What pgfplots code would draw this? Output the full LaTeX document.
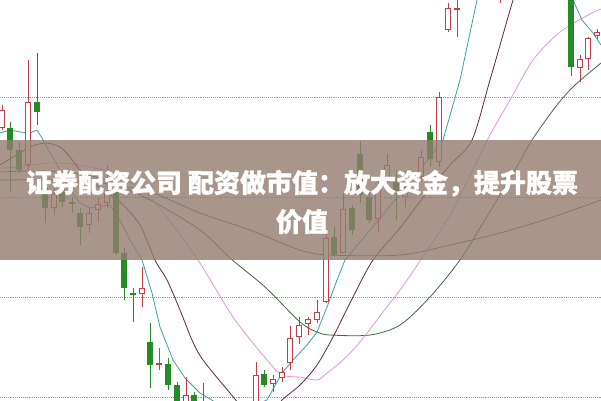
\documentclass[border=0pt]{standalone}
\usepackage{pgfplots}
\pgfplotsset{compat=1.18}
\usepackage{pgfplotstable}
\usepackage{fontspec}
\newfontfamily\cjk{Noto Sans CJK SC}[BoldFeatures={FakeBold=1.2}]
\definecolor{cgreen}{RGB}{36,140,36}
\definecolor{cred}{RGB}{196,62,72}
\definecolor{ma5}{RGB}{60,158,170}
\definecolor{ma10}{RGB}{92,36,78}
\definecolor{ma20}{RGB}{222,150,228}
\definecolor{ma30}{RGB}{62,104,62}
\definecolor{ma60}{RGB}{80,90,80}
\definecolor{banner}{RGB}{146,124,112}

% candles in picture units: x, body top, body bottom, high, low (y grows downward)
\pgfplotstableread{
x top bot hi lo
10 128 150 122 192
19 150 170 142 173
37 102 112 53 125
45 188 208 185 223
62 187 202 182 207
72 202 203.5 197 213
80 213 227 208 245
116 190 253 187 255
124 253 288 248 300
133 293 295 288 322
150 342 365 323 388
168 364 385 358 390
177 385 410 382 415
194 395 410 392 415
203 410 420 383 425
264 374 385 370 387
334 237 255 227 257
352 208 230 205 235
360 154 195 141 203
369 197 220 192 223
396 182 192 170 220
430 132 159 125 167
571 -20 67 -30 76
}\greencandles

\pgfplotstableread{
x top bot hi lo inner
2 110 128 105 130 16
28 102 165 60 170 61
54 193 208 188 215 13
89 213 225 207 233 10
98 204 210 198 222 4
107 192 203 165 208 9
142 288 294 267 307 4
159 363 365 348 370 0
186 395 410 377 415 13
256 375 410 362 415 33
273 379 384 375 392 3
282 372 378 367 382 4
290 338 363 326 370 23
299 325 337 317 344 10
308 319 324 317 335 3
317 312 320 300 323 6
326 238 302 233 303 62
343 209 253 193 253 42
378 188 219 180 232 29
387 165 178 154 188 11
405 187 197 173 207 8
421 157 177 150 182 18
439 97 162 92 167 63
448 8 30 3 32 20
457 8 10 -5 37 0
500 -30 -10 -40 3 18
580 59 68 55 82 7
588 38 59 37 70 19
597 32 36 29 39 2
}\redcandles

\begin{document}
\begin{tikzpicture}
\begin{axis}[
  width=601pt, height=400pt, scale only axis,
  xmin=0, xmax=601, ymin=0, ymax=400, y dir=reverse,
  hide axis, clip=true,
]
\coordinate (SW) at (rel axis cs:0,0);
\coordinate (NE) at (rel axis cs:1,1);
% dotted grid lines
\addplot[gray!80, densely dotted, line width=0.9pt, forget plot] coordinates {(0,97) (601,97)};
\addplot[gray!80, densely dotted, line width=0.9pt, forget plot] coordinates {(0,197) (601,197)};
\addplot[gray!80, densely dotted, line width=0.9pt, forget plot] coordinates {(0,297) (601,297)};
\addplot[gray!80, densely dotted, line width=0.9pt, forget plot] coordinates {(0,397) (601,397)};
% moving averages
\addplot[ma60, line width=0.8pt, smooth] coordinates {
(0,180) (50,180) (100,183) (150,192) (200,213) (250,230) (300,250) (330,255) (400,255) (450,245) (500,233) (550,218) (601,200)};
\addplot[ma30, line width=0.8pt, smooth] coordinates {
(0,172) (30,171) (60,172) (100,178) (150,200) (200,230) (230,258) (265,287) (300,322) (317,332) (330,335) (370,335) (400,325) (430,297) (460,260) (480,228) (500,195) (515,170) (532,140) (557,105) (575,85) (601,63)};
\addplot[ma20, line width=0.8pt, smooth] coordinates {
(0,168) (20,167) (50,163) (80,165) (110,172) (130,182) (150,197) (175,228) (200,263) (233,317) (267,360) (282,375) (300,377) (317,380) (327,373) (343,360) (360,342) (383,312) (400,290) (422,258) (450,215) (470,175) (490,135) (510,100) (533,60) (560,32) (590,14) (601,9)};
\addplot[ma10, line width=0.8pt, smooth] coordinates {
(0,165) (20,153) (30,147) (45,143) (60,147) (70,157) (80,170) (100,188) (120,202) (140,225) (155,260) (167,280) (180,310) (192,340) (203,360) (230,393) (250,415) (270,415) (282,400) (300,385) (317,365) (333,337) (353,297) (373,260) (400,228) (425,195) (450,165) (472,140) (490,80) (513,0) (520,-20)};
\addplot[ma5, line width=0.8pt] coordinates {
(0,133) (10,130) (20,132) (30,133) (37,130) (42,138) (50,153) (60,170) (70,190) (80,203) (90,208) (110,205) (120,220) (130,240) (142,260) (152,293) (160,327) (173,360) (185,378) (200,393) (215,402) (240,420) (262,402) (267,400) (282,373) (293,360) (307,345) (317,332) (327,307) (337,280) (345,260) (370,230) (395,200) (420,170) (443,140) (460,80) (477,0) (490,-40) (560,-40) (573,0) (582,20) (593,33) (601,45)};
% wicks
\addplot[draw=none, mark=none, forget plot,
  error bars/.cd, y dir=plus, y explicit, error mark=none,
  error bar style={draw=cgreen, line width=1pt, solid}]
  table[x=x, y=hi, y error expr=\thisrow{lo}-\thisrow{hi}] {\greencandles};
\addplot[draw=none, mark=none, forget plot,
  error bars/.cd, y dir=plus, y explicit, error mark=none,
  error bar style={draw=cred, line width=1pt, solid}]
  table[x=x, y=hi, y error expr=\thisrow{lo}-\thisrow{hi}] {\redcandles};
% bodies
\addplot[draw=none, mark=none, forget plot,
  error bars/.cd, y dir=plus, y explicit, error mark=none,
  error bar style={draw=cgreen, line width=6pt, solid}]
  table[x=x, y=top, y error expr=\thisrow{bot}-\thisrow{top}] {\greencandles};
\addplot[draw=none, mark=none, forget plot,
  error bars/.cd, y dir=plus, y explicit, error mark=none,
  error bar style={draw=cred, line width=6pt, solid}]
  table[x=x, y=top, y error expr=\thisrow{bot}-\thisrow{top}] {\redcandles};
\addplot[draw=none, mark=none, forget plot,
  error bars/.cd, y dir=plus, y explicit, error mark=none,
  error bar style={draw=white, line width=4pt, solid}]
  table[x=x, y expr=\thisrow{top}+1, y error=inner] {\redcandles};
% banner
\fill[banner, opacity=0.8] (axis cs:0,140) rectangle (axis cs:601,260);
\node[font=\cjk\bfseries\fontsize{26}{39}\selectfont, text=white, align=center, inner sep=0pt]
  at (axis cs:302,202) {证券配资公司 配资做市值：放大资金，提升股票\\价值};
\end{axis}
\pgfresetboundingbox
\path (SW) rectangle (NE);
\end{tikzpicture}
\end{document}
